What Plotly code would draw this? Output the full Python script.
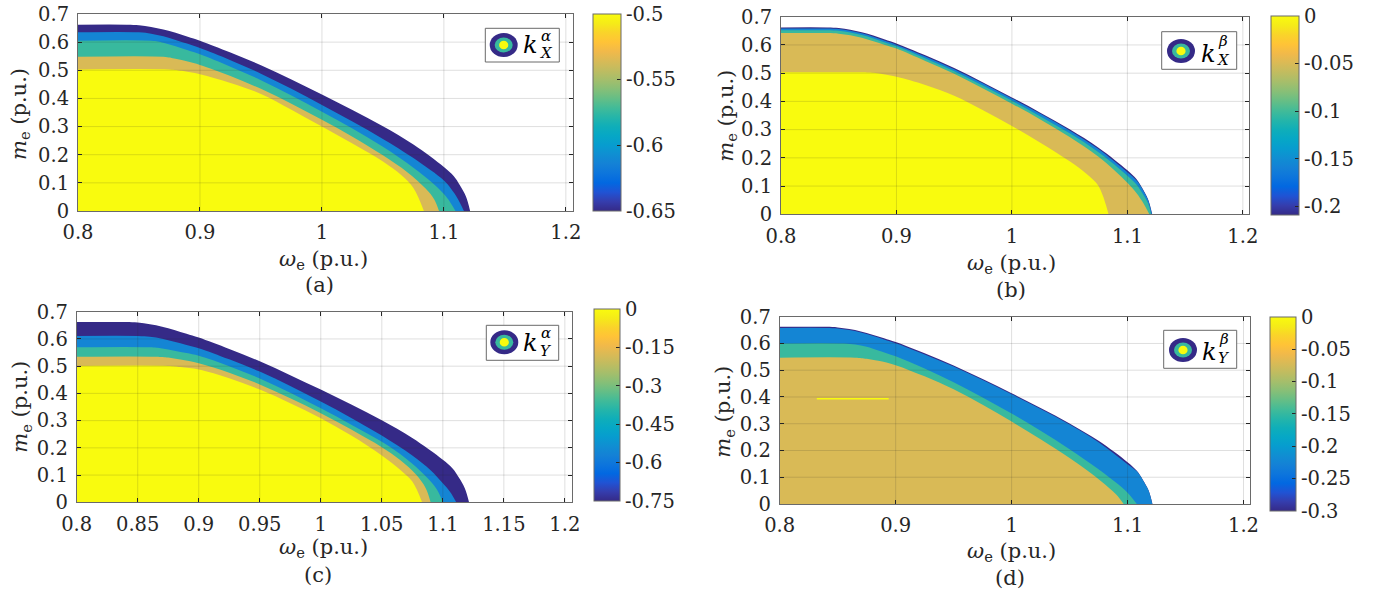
import plotly.graph_objects as go

# ---------------------------------------------------------------------------
# Data: contour-band boundaries m_e(omega_e) for each sub-figure.
# Each band is the region below its boundary curve; bands are stacked from
# the outermost (lowest level) to the innermost (highest level).
# ---------------------------------------------------------------------------

# operating-limit boundary (outer edge of the feasible region)
OMEGA_LIMIT = [0.80, 0.84, 0.85, 0.86, 0.87, 0.88, 0.89, 0.90, 0.925, 0.95,
               0.975, 1.00, 1.025, 1.05, 1.075, 1.10, 1.108, 1.113, 1.118, 1.1215]
M_LIMIT = [0.662, 0.662, 0.660, 0.654, 0.645, 0.633, 0.619, 0.605, 0.563, 0.518,
           0.467, 0.414, 0.359, 0.301, 0.236, 0.156, 0.124, 0.092, 0.052, 0.0]

# (a) k_X^alpha
A_L2_W = [0.80, 0.85, 0.86, 0.87, 0.88, 0.89, 0.90, 0.925, 0.95, 0.975, 1.00,
          1.025, 1.05, 1.075, 1.10, 1.106, 1.111, 1.1164]
A_L2_M = [0.635, 0.635, 0.630, 0.621, 0.608, 0.594, 0.579, 0.536, 0.488, 0.434,
          0.377, 0.318, 0.256, 0.188, 0.108, 0.078, 0.046, 0.0]
A_L3_W = [0.80, 0.86, 0.87, 0.88, 0.89, 0.90, 0.925, 0.95, 0.975, 1.00, 1.025,
          1.05, 1.075, 1.09, 1.10, 1.105, 1.1095]
A_L3_M = [0.605, 0.605, 0.598, 0.585, 0.571, 0.557, 0.513, 0.465, 0.410, 0.353,
          0.293, 0.228, 0.154, 0.102, 0.060, 0.032, 0.0]
A_L4_W = [0.80, 0.87, 0.88, 0.89, 0.90, 0.925, 0.95, 0.975, 1.00, 1.025, 1.05,
          1.07, 1.085, 1.092, 1.096]
A_L4_M = [0.548, 0.548, 0.541, 0.531, 0.519, 0.480, 0.434, 0.381, 0.324, 0.264,
          0.198, 0.138, 0.080, 0.042, 0.0]
A_L5_W = [0.80, 0.875, 0.885, 0.90, 0.925, 0.95, 0.975, 1.00, 1.025, 1.05,
          1.065, 1.075, 1.0836]
A_L5_M = [0.503, 0.503, 0.498, 0.486, 0.455, 0.416, 0.360, 0.300, 0.240, 0.176,
          0.128, 0.082, 0.0]

# (b) k_X^beta
B_L2_W = [0.80, 0.84, 0.85, 0.86, 0.87, 0.88, 0.89, 0.90, 0.925, 0.95, 0.975,
          1.00, 1.025, 1.05, 1.075, 1.10, 1.108, 1.113, 1.118, 1.1213]
B_L2_M = [0.658, 0.658, 0.656, 0.650, 0.641, 0.629, 0.615, 0.601, 0.559, 0.514,
          0.463, 0.410, 0.355, 0.297, 0.231, 0.149, 0.120, 0.090, 0.050, 0.0]
B_L3_W = [0.80, 0.84, 0.85, 0.86, 0.87, 0.88, 0.89, 0.90, 0.925, 0.95, 0.975,
          1.00, 1.025, 1.05, 1.075, 1.10, 1.108, 1.113, 1.118, 1.1205]
B_L3_M = [0.652, 0.652, 0.650, 0.644, 0.635, 0.623, 0.609, 0.595, 0.552, 0.507,
          0.455, 0.402, 0.346, 0.287, 0.220, 0.137, 0.105, 0.075, 0.038, 0.0]
B_L4_W = [0.80, 0.84, 0.85, 0.86, 0.87, 0.88, 0.89, 0.90, 0.925, 0.95, 0.975,
          1.00, 1.025, 1.05, 1.075, 1.10, 1.108, 1.113, 1.119]
B_L4_M = [0.642, 0.642, 0.640, 0.634, 0.625, 0.613, 0.600, 0.587, 0.543, 0.498,
          0.446, 0.392, 0.335, 0.274, 0.204, 0.112, 0.075, 0.045, 0.0]
B_L5_W = [0.80, 0.87, 0.88, 0.89, 0.90, 0.925, 0.95, 0.975, 1.00, 1.025, 1.05,
          1.065, 1.075, 1.0837]
B_L5_M = [0.503, 0.503, 0.501, 0.495, 0.487, 0.458, 0.420, 0.369, 0.313, 0.253,
          0.188, 0.142, 0.100, 0.0]

# (c) k_Y^alpha
C_L2_W = [0.80, 0.85, 0.86, 0.87, 0.88, 0.89, 0.90, 0.925, 0.95, 0.975, 1.00,
          1.025, 1.05, 1.075, 1.09, 1.10, 1.106, 1.111]
C_L2_M = [0.611, 0.611, 0.608, 0.601, 0.590, 0.578, 0.566, 0.525, 0.480, 0.427,
          0.370, 0.310, 0.245, 0.172, 0.118, 0.070, 0.038, 0.0]
C_L3_W = [0.80, 0.86, 0.87, 0.88, 0.89, 0.90, 0.925, 0.95, 0.975, 1.00, 1.025,
          1.05, 1.07, 1.085, 1.095, 1.10]
C_L3_M = [0.569, 0.569, 0.565, 0.557, 0.548, 0.538, 0.500, 0.455, 0.402, 0.345,
          0.285, 0.222, 0.160, 0.100, 0.048, 0.0]
C_L4_W = [0.80, 0.865, 0.875, 0.885, 0.90, 0.925, 0.95, 0.975, 1.00, 1.025,
          1.05, 1.065, 1.078, 1.086, 1.09]
C_L4_M = [0.535, 0.535, 0.532, 0.524, 0.511, 0.476, 0.433, 0.382, 0.327, 0.267,
          0.202, 0.155, 0.102, 0.052, 0.0]
C_L5_W = [0.80, 0.875, 0.885, 0.90, 0.925, 0.95, 0.975, 1.00, 1.025, 1.05,
          1.065, 1.075, 1.083]
C_L5_M = [0.501, 0.501, 0.497, 0.488, 0.456, 0.414, 0.364, 0.309, 0.245, 0.172,
          0.120, 0.076, 0.0]

# (d) k_Y^beta
D_L2_W = [0.80, 0.84, 0.85, 0.86, 0.87, 0.88, 0.89, 0.90, 0.925, 0.95, 0.975,
          1.00, 1.025, 1.05, 1.075, 1.10, 1.108, 1.113, 1.118, 1.1213]
D_L2_M = [0.658, 0.658, 0.656, 0.650, 0.641, 0.629, 0.615, 0.601, 0.559, 0.514,
          0.463, 0.410, 0.355, 0.297, 0.231, 0.149, 0.122, 0.091, 0.051, 0.0]
D_L3_W = [0.80, 0.855, 0.865, 0.875, 0.885, 0.90, 0.925, 0.95, 0.975, 1.00,
          1.025, 1.05, 1.075, 1.09, 1.10, 1.108]
D_L3_M = [0.600, 0.600, 0.596, 0.588, 0.574, 0.552, 0.506, 0.455, 0.398, 0.338,
          0.274, 0.205, 0.130, 0.080, 0.042, 0.0]
D_L4_W = [0.80, 0.865, 0.875, 0.885, 0.90, 0.925, 0.95, 0.975, 1.00, 1.025,
          1.05, 1.065, 1.078, 1.09, 1.0966]
D_L4_M = [0.547, 0.547, 0.543, 0.535, 0.519, 0.477, 0.429, 0.371, 0.308, 0.242,
          0.172, 0.126, 0.082, 0.036, 0.0]
# isolated top-level contour segment inside (d)
D_SEG_W = [0.832, 0.894]
D_SEG_M = [0.3936, 0.3936]

# axis ticks
X_TICKS = [0.8, 0.9, 1.0, 1.1, 1.2]
X_TICKS_C = [0.8, 0.85, 0.9, 0.95, 1.0, 1.05, 1.1, 1.15, 1.2]
Y_TICKS = [0.0, 0.1, 0.2, 0.3, 0.4, 0.5, 0.6, 0.7]

# colour-bar limits and ticks
CB_A_RANGE = [-0.65, -0.5]
CB_A_TICKS = [-0.65, -0.6, -0.55, -0.5]
CB_B_RANGE = [-0.209, 0.0]
CB_B_TICKS = [-0.2, -0.15, -0.1, -0.05, 0.0]
CB_C_RANGE = [-0.75, 0.0]
CB_C_TICKS = [-0.75, -0.6, -0.45, -0.3, -0.15, 0.0]
CB_D_RANGE = [-0.3, 0.0]
CB_D_TICKS = [-0.3, -0.25, -0.2, -0.15, -0.1, -0.05, 0.0]

# ---------------------------------------------------------------------------
# Styling
# ---------------------------------------------------------------------------
W, H = 1380, 593
FONT = "DejaVu Serif"
TXT = "#262626"
X_MAX = 1.2056
TICK_SIZE = 19.5

PARULA = [
    (0.2081, 0.1663, 0.5292), (0.2081, 0.2386, 0.6771), (0.1253, 0.3242, 0.8303),
    (0.0060, 0.4086, 0.8828), (0.0498, 0.4586, 0.8641), (0.0779, 0.5040, 0.8384),
    (0.0641, 0.5570, 0.8240), (0.0265, 0.6137, 0.8135), (0.0228, 0.6535, 0.7768),
    (0.0590, 0.6838, 0.7254), (0.1453, 0.7098, 0.6646), (0.2586, 0.7317, 0.5954),
    (0.3953, 0.7459, 0.5244), (0.5300, 0.7491, 0.4661), (0.6473, 0.7456, 0.4188),
    (0.7525, 0.7384, 0.3768), (0.8507, 0.7299, 0.3360), (0.9450, 0.7261, 0.2886),
    (0.9990, 0.7653, 0.2164), (0.9789, 0.8271, 0.1633), (0.9598, 0.9218, 0.0948),
    (0.9763, 0.9831, 0.0538),
]
PARULA_SCALE = [[i / (len(PARULA) - 1),
                 "rgb(%d,%d,%d)" % tuple(round(c * 255) for c in rgb)]
                for i, rgb in enumerate(PARULA)]

NAVY = "rgb(53,42,135)"
BLUE = "rgb(20,133,212)"
TEAL = "rgb(56,185,158)"
TAN = "rgb(217,186,86)"
YELLOW = "rgb(249,251,14)"


def px(x):
    return x / W


def py(y):
    return 1 - y / H


panels = [
    dict(
        dom=(78, 572.7, 14, 211), xticks=X_TICKS,
        bands=[(OMEGA_LIMIT, M_LIMIT, NAVY), (A_L2_W, A_L2_M, BLUE),
               (A_L3_W, A_L3_M, TEAL), (A_L4_W, A_L4_M, TAN),
               (A_L5_W, A_L5_M, YELLOW)],
        cb=(593.3, 14, 197, 28), cb_range=CB_A_RANGE, cb_ticks=CB_A_TICKS,
        ytitle=(20, 114), xtitle=(323, 260), tag=("(a)", 319, 285),
        leg=dict(box=(485.3, 28.3, 559.3, 62), icon=(503.7, 45),
                 k=(530.3, 45), sup=("α", 546, 36), sub=("X", 546, 53.5)),
    ),
    dict(
        dom=(781, 1249.3, 16.7, 214.3), xticks=X_TICKS,
        bands=[(OMEGA_LIMIT, M_LIMIT, NAVY), (B_L2_W, B_L2_M, BLUE),
               (B_L3_W, B_L3_M, TEAL), (B_L4_W, B_L4_M, TAN),
               (B_L5_W, B_L5_M, YELLOW)],
        cb=(1270.7, 16, 199, 27.6), cb_range=CB_B_RANGE, cb_ticks=CB_B_TICKS,
        ytitle=(726.7, 116), xtitle=(1012, 264), tag=("(b)", 1011, 290),
        leg=dict(box=(1161.7, 31.7, 1236.7, 69.3), icon=(1181, 51),
                 k=(1208, 54), sup=("β", 1223, 41), sub=("X", 1223, 60)),
    ),
    dict(
        dom=(76.7, 571.7, 311.7, 502.3), xticks=X_TICKS_C,
        bands=[(OMEGA_LIMIT, M_LIMIT, NAVY), (C_L2_W, C_L2_M, BLUE),
               (C_L3_W, C_L3_M, TEAL), (C_L4_W, C_L4_M, TAN),
               (C_L5_W, C_L5_M, YELLOW)],
        cb=(594.3, 309, 192, 25.7), cb_range=CB_C_RANGE, cb_ticks=CB_C_TICKS,
        ytitle=(21, 406.7), xtitle=(323, 547.5), tag=("(c)", 318, 575),
        leg=dict(box=(486.3, 325.3, 558.7, 360.3), icon=(504.3, 342.2),
                 k=(530.3, 343.3), sup=("α", 546, 333), sub=("Y", 546, 351)),
    ),
    dict(
        dom=(779.7, 1250, 316.7, 504), xticks=X_TICKS,
        bands=[(OMEGA_LIMIT, M_LIMIT, NAVY), (D_L2_W, D_L2_M, BLUE),
               (D_L3_W, D_L3_M, TEAL), (D_L4_W, D_L4_M, TAN)],
        cb=(1270, 316.7, 194, 25.7), cb_range=CB_D_RANGE, cb_ticks=CB_D_TICKS,
        ytitle=(724, 411.7), xtitle=(1012, 551.5), tag=("(d)", 1010, 578),
        leg=dict(box=(1163.7, 330.3, 1236.7, 368.3), icon=(1183, 350),
                 k=(1209, 352), sup=("β", 1224, 339), sub=("Y", 1224, 358)),
    ),
]

fig = go.Figure()
layout = dict(width=W, height=H, margin=dict(l=0, r=0, t=0, b=0, autoexpand=False),
              paper_bgcolor="white", plot_bgcolor="white", showlegend=False,
              font=dict(family=FONT, size=TICK_SIZE, color=TXT))
shapes, annotations = [], []
tickfont = dict(family=FONT, size=TICK_SIZE, color=TXT)

for i, p in enumerate(panels):
    n = "" if i == 0 else str(i + 1)
    xa, ya = "x" + n, "y" + n
    x0, x1, y0, y1 = p["dom"]

    # filled contour bands, outermost first, each filled down to m_e = 0
    for w, m, color in p["bands"]:
        fig.add_trace(go.Scatter(
            x=w, y=m, mode="lines", fill="tozeroy", fillcolor=color,
            line=dict(width=0, color=color, shape="spline", smoothing=1.0),
            hoverinfo="skip", xaxis=xa, yaxis=ya))
    if i == 3:
        fig.add_trace(go.Scatter(
            x=D_SEG_W, y=D_SEG_M, mode="lines", line=dict(width=1.5, color=YELLOW),
            hoverinfo="skip", xaxis=xa, yaxis=ya))

    # colour bar
    cbx, cby, cblen, cbthick = p["cb"]
    fig.add_trace(go.Scatter(
        x=[None], y=[None], mode="markers", xaxis=xa, yaxis=ya, hoverinfo="skip",
        marker=dict(color=[p["cb_range"][0]], colorscale=PARULA_SCALE,
                    cmin=p["cb_range"][0], cmax=p["cb_range"][1], showscale=True,
                    colorbar=dict(
                        x=px(cbx), xanchor="left", y=py(cby), yanchor="top",
                        lenmode="pixels", len=cblen, thickness=cbthick,
                        thicknessmode="pixels", xpad=0, ypad=0,
                        outlinewidth=1, outlinecolor="#6a6a6a",
                        ticks="inside", ticklen=4, tickcolor=TXT,
                        tickvals=p["cb_ticks"],
                        ticktext=["%g" % v for v in p["cb_ticks"]],
                        tickfont=tickfont))))

    layout["xaxis" + n] = dict(
        domain=[px(x0), px(x1)], range=[0.8, X_MAX], anchor=ya,
        tickvals=p["xticks"], ticktext=["%g" % v for v in p["xticks"]],
        ticks="inside", ticklen=4, tickcolor=TXT, mirror="allticks",
        showline=True, linecolor="#6a6a6a", linewidth=1, showgrid=False,
        zeroline=False, tickfont=tickfont, ticklabelstandoff=4, layer="above traces")
    layout["yaxis" + n] = dict(
        domain=[py(y1), py(y0)], range=[0, 0.7], anchor=xa,
        tickvals=Y_TICKS, ticktext=["%g" % v for v in Y_TICKS],
        ticks="inside", ticklen=4, tickcolor=TXT, mirror="allticks",
        showline=True, linecolor="#6a6a6a", linewidth=1, showgrid=False,
        zeroline=False, tickfont=tickfont, ticklabelstandoff=4, layer="above traces")

    # grid drawn over the filled contours
    grid = dict(color="rgba(38,38,38,0.15)", width=1)
    for v in p["xticks"][1:]:
        shapes.append(dict(type="line", xref=xa, yref=ya + " domain", x0=v, x1=v,
                           y0=0, y1=1, line=grid, layer="above"))
    for v in Y_TICKS[1:-1]:
        shapes.append(dict(type="line", xref=xa + " domain", yref=ya, x0=0, x1=1,
                           y0=v, y1=v, line=grid, layer="above"))

    # axis titles and panel tag
    ytx, yty = p["ytitle"]
    annotations.append(dict(text="<i>m</i><sub>e</sub> (p.u.)", x=px(ytx), y=py(yty),
                            xref="paper", yref="paper", showarrow=False, textangle=-90,
                            xanchor="center", yanchor="middle",
                            font=dict(family=FONT, size=21, color=TXT)))
    xtx, xty = p["xtitle"]
    annotations.append(dict(text="<i>ω</i><sub>e</sub> (p.u.)", x=px(xtx), y=py(xty),
                            xref="paper", yref="paper", showarrow=False,
                            xanchor="center", yanchor="middle",
                            font=dict(family=FONT, size=21, color=TXT)))
    tag, tx, ty = p["tag"]
    annotations.append(dict(text=tag, x=px(tx), y=py(ty), xref="paper", yref="paper",
                            showarrow=False, xanchor="center", yanchor="middle",
                            font=dict(family=FONT, size=21, color=TXT)))

    # legend box with contour glyph
    lg = p["leg"]
    bl, bt, br, bb = lg["box"]
    shapes.append(dict(type="rect", xref="paper", yref="paper", x0=px(bl), x1=px(br),
                       y0=py(bb), y1=py(bt), line=dict(color="#6a6a6a", width=1),
                       fillcolor="white", layer="above"))
    icx, icy = lg["icon"]
    for (rw, rh), col in zip([(14, 12), (9, 7.5), (4.6, 4.3)], [NAVY, TEAL, YELLOW]):
        shapes.append(dict(type="circle", xref="paper", yref="paper",
                           x0=px(icx - rw), x1=px(icx + rw), y0=py(icy + rh),
                           y1=py(icy - rh), fillcolor=col, line=dict(width=0),
                           layer="above"))
    kx, ky = lg["k"]
    annotations.append(dict(text="<i>k</i>", x=px(kx), y=py(ky), xref="paper",
                            yref="paper", showarrow=False, xanchor="center",
                            yanchor="middle", font=dict(family=FONT, size=24, color="black")))
    s, sx, sy = lg["sup"]
    annotations.append(dict(text="<i>%s</i>" % s, x=px(sx), y=py(sy), xref="paper",
                            yref="paper", showarrow=False, xanchor="center",
                            yanchor="middle", font=dict(family=FONT, size=15, color="black")))
    s, sx, sy = lg["sub"]
    annotations.append(dict(text="<i>%s</i>" % s, x=px(sx), y=py(sy), xref="paper",
                            yref="paper", showarrow=False, xanchor="center",
                            yanchor="middle", font=dict(family=FONT, size=15, color="black")))

layout["shapes"] = shapes
layout["annotations"] = annotations
fig.update_layout(**layout)
fig.write_html("out.html")
